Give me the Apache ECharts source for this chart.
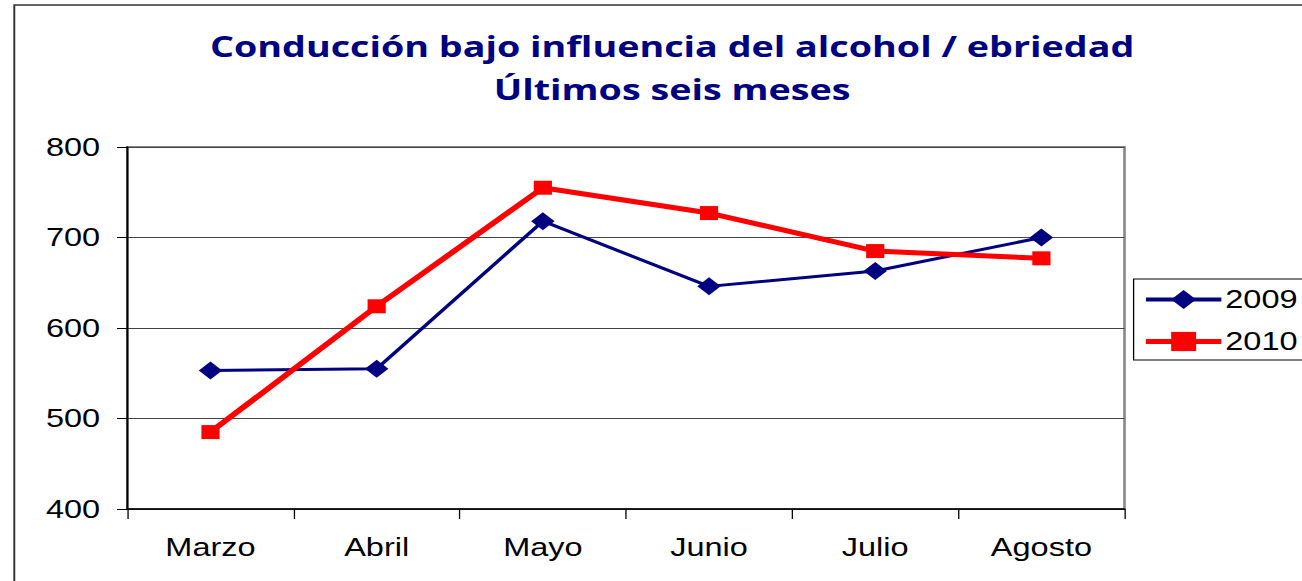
<!DOCTYPE html>
<html>
<head>
<meta charset="utf-8">
<script src="https://cdn.jsdelivr.net/npm/echarts@6/dist/echarts.min.js"></script>
<style>
  html, body { margin: 0; padding: 0; background: #fff; overflow: hidden; }
  /* the original picture is stretched sideways, so the chart is drawn narrow and widened */
  #chart { width: 1002px; height: 581px; transform: scaleX(1.3); transform-origin: 0 0; }
</style>
</head>
<body>
<div id="chart"></div>
<script>
const months = ['Marzo', 'Abril', 'Mayo', 'Junio', 'Julio', 'Agosto']
const values2009 = [553, 555, 718, 646, 663, 700]
const values2010 = [485, 624, 755, 727, 685, 677]
const titleLines = ['Conducción bajo influencia del alcohol / ebriedad', 'Últimos seis meses']

const chart = echarts.init(document.getElementById('chart'), null, { renderer: 'svg' })

const titleFont = 'bold 29px "Open Sans", sans-serif'

chart.setOption({
  backgroundColor: '#fff',
  animation: false,
  textStyle: { fontFamily: '"Liberation Sans", Arial, sans-serif' },
  graphic: [
    {
      type: 'rect',
      shape: { x: 11, y: 5, width: 1200, height: 800 },
      style: { fill: 'none', stroke: '#333', lineWidth: 1.5 },
      silent: true
    },
    {
      type: 'text',
      x: 517,
      y: 46,
      style: { text: titleLines[0], font: titleFont, fill: '#000080', textAlign: 'center', textVerticalAlign: 'middle' }
    },
    {
      type: 'text',
      x: 517,
      y: 89,
      style: { text: titleLines[1], font: titleFont, fill: '#000080', textAlign: 'center', textVerticalAlign: 'middle' }
    }
  ],
  legend: {
    orient: 'vertical',
    left: 872,
    top: 279,
    itemWidth: 58,
    itemHeight: 24,
    itemGap: 17,
    padding: [8, 20, 6, 7],
    borderColor: '#000',
    borderWidth: 1,
    textStyle: { fontSize: 25, color: '#000', padding: [0, 0, 0, -2] },
    data: [
      { name: '2009', lineStyle: { width: 4 } },
      { name: '2010', lineStyle: { width: 5 } }
    ]
  },
  grid: {
    left: 98,
    right: 137,
    top: 147,
    bottom: 72,
    show: true,
    borderColor: '#888',
    borderWidth: 2
  },
  xAxis: {
    type: 'category',
    data: months,
    boundaryGap: true,
    axisLine: { lineStyle: { color: '#000', width: 1.5 } },
    axisTick: { show: true, length: 10, lineStyle: { color: '#000' } },
    axisLabel: { fontSize: 25, color: '#000', margin: 26 }
  },
  yAxis: {
    type: 'value',
    min: 400,
    max: 800,
    interval: 100,
    axisLine: { show: true, lineStyle: { color: '#000', width: 1.5 } },
    axisTick: { show: true, length: 8, lineStyle: { color: '#000' } },
    axisLabel: { fontSize: 25, color: '#000', margin: 21 },
    splitLine: { lineStyle: { color: '#444', width: 1 } }
  },
  series: [
    {
      name: '2009',
      type: 'line',
      data: values2009,
      symbol: 'diamond',
      symbolSize: 18,
      itemStyle: { color: '#000080' },
      lineStyle: { color: '#000080', width: 3 }
    },
    {
      name: '2010',
      type: 'line',
      data: values2010,
      symbol: 'rect',
      symbolSize: 14,
      itemStyle: { color: '#ff0000' },
      lineStyle: { color: '#ff0000', width: 5 }
    }
  ]
})
</script>
</body>
</html>
